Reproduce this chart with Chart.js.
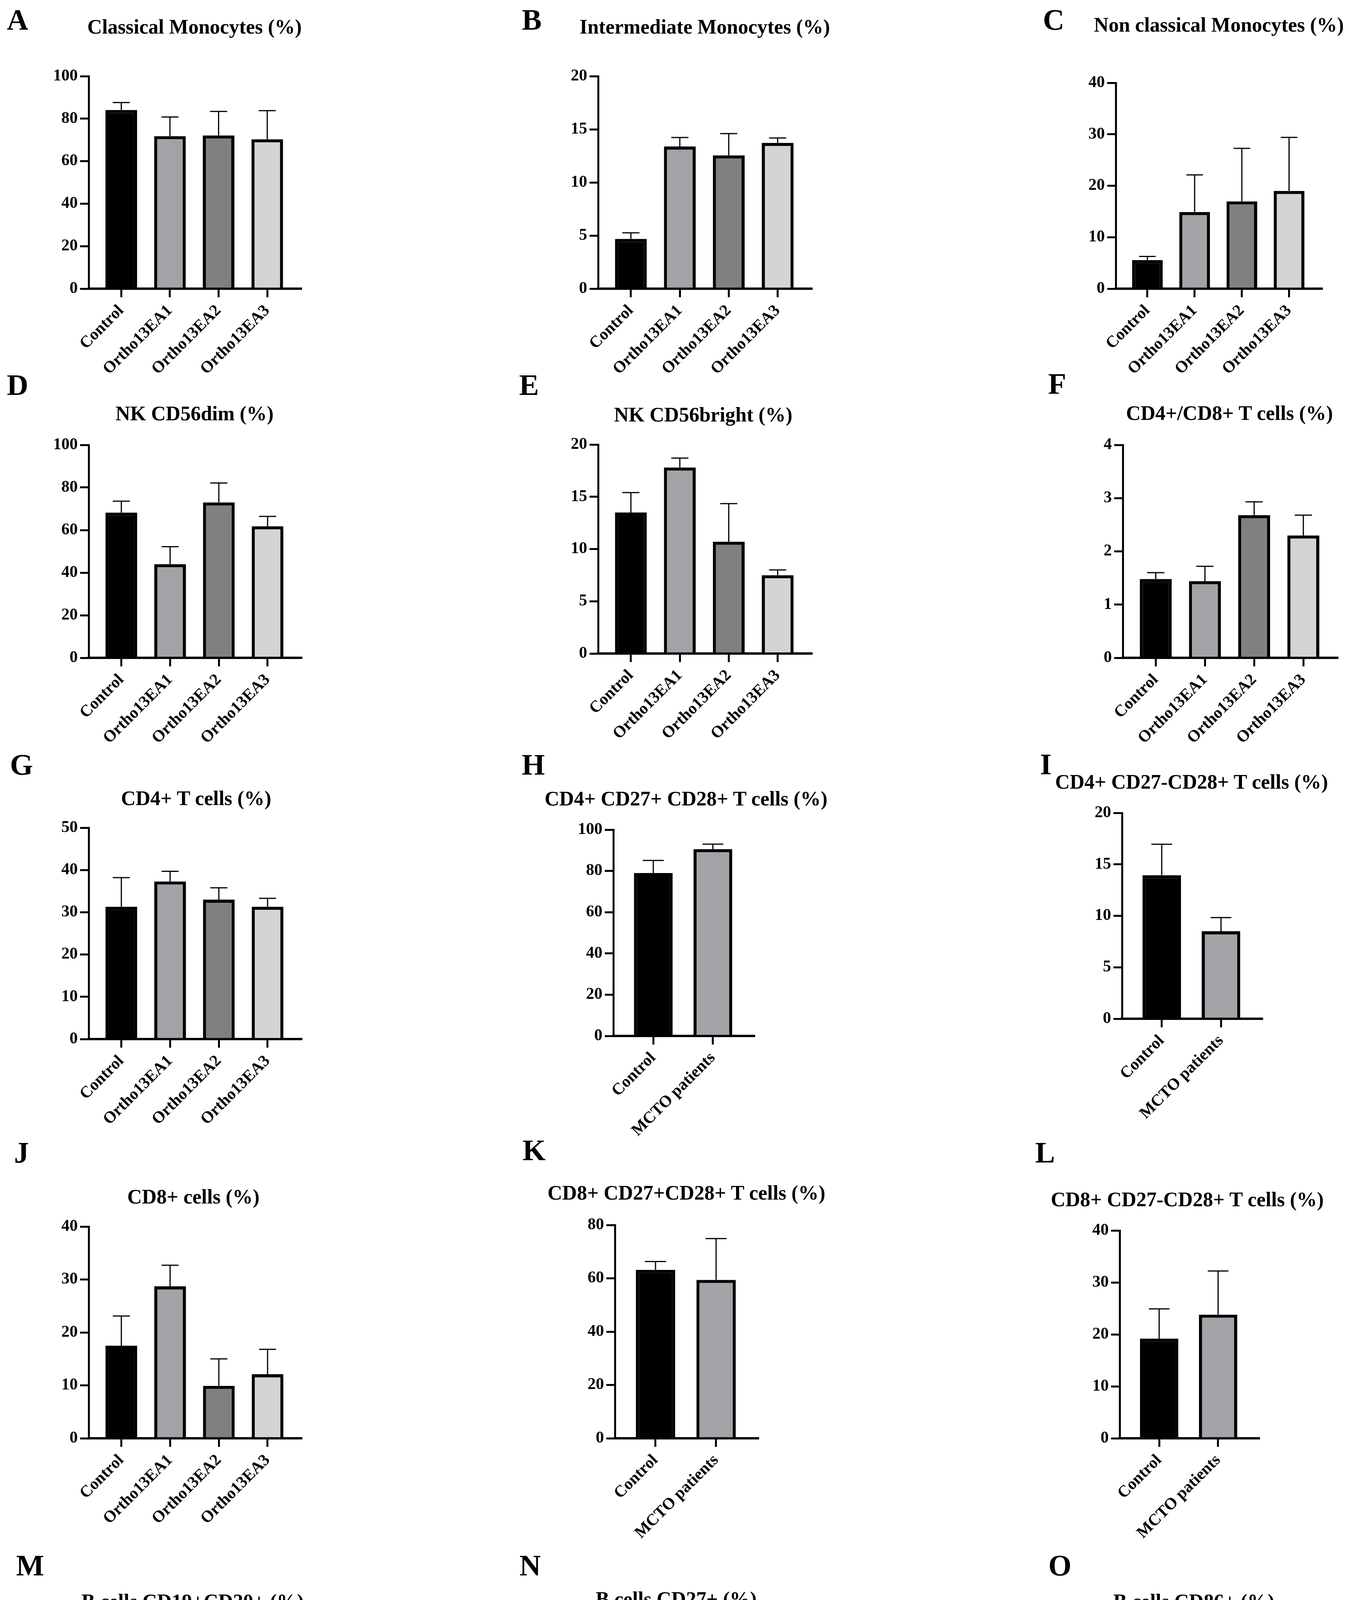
<!DOCTYPE html>
<html>
<head>
<meta charset="utf-8">
<script src="https://cdn.jsdelivr.net/npm/chart.js@4.4.1/dist/chart.umd.min.js"></script>
<style>
  body { margin: 0; background: #fff; }
  #page {
    position: relative; width: 3453px; height: 4999px; overflow: hidden; background: #fff;
    font-family: 'Liberation Serif', 'Times New Roman', serif; font-weight: bold; color: #000;
  }
  .letter { position: absolute; font-size: 76px; line-height: 1; transform: translate(-50%, -50%); }
  .title { position: absolute; font-size: 52px; line-height: 1; white-space: nowrap; transform: translate(-50%, -50%); }
  canvas { position: absolute; }
</style>
</head>
<body>
<div id="page"></div>
<script>
// groups on the x axis
const groups4 = ['Control', 'Ortho13EA1', 'Ortho13EA2', 'Ortho13EA3'];
const groups2 = ['Control', 'MCTO patients'];

// means and SD (upper error bar)
const classicalMono = [84.1, 71.8, 72.1, 70.3];
const classicalMonoSD = [3.5, 9.0, 11.3, 13.5];
const intermediateMono = [4.69, 13.38, 12.55, 13.72];
const intermediateMonoSD = [0.57, 0.85, 2.05, 0.46];
const nonClassicalMono = [5.56, 14.9, 16.96, 19.0];
const nonClassicalMonoSD = [0.71, 7.2, 10.3, 10.4];
const nkDim = [68.2, 44.0, 73.0, 61.8];
const nkDimSD = [5.4, 8.2, 9.1, 4.6];
const nkBright = [13.5, 17.8, 10.7, 7.5];
const nkBrightSD = [1.9, 0.9, 3.65, 0.5];
const cd4cd8Ratio = [1.48, 1.44, 2.68, 2.30];
const cd4cd8RatioSD = [0.12, 0.28, 0.25, 0.38];
const cd4T = [31.3, 37.3, 33.0, 31.3];
const cd4TSD = [6.9, 2.4, 2.8, 2.0];
const cd4Cd27pCd28p = [79.0, 90.6];
const cd4Cd27pCd28pSD = [6.1, 2.4];
const cd4Cd27nCd28p = [13.95, 8.5];
const cd4Cd27nCd28pSD = [3.0, 1.33];
const cd8Cells = [17.5, 28.7, 9.9, 12.1];
const cd8CellsSD = [5.6, 4.0, 5.1, 4.7];
const cd8Cd27pCd28p = [63.2, 59.4];
const cd8Cd27pCd28pSD = [3.1, 15.5];
const cd8Cd27nCd28p = [19.2, 23.8];
const cd8Cd27nCd28pSD = [5.7, 8.4];
const bCd19Cd20 = [89.6, 91.7, 86.0, 75.7];
const bCd19Cd20SD = [5.7, 5.1, 4.4, 8.6];
const bCd27 = [46.3, 14.6];
const bCd27SD = [5.3, 0.8];
const bCd86 = [2.8, 82.3];
const bCd86SD = [0.7, 17.5];

// y axis ranges
const yMax = [100, 20, 40, 100, 20, 4, 50, 100, 20, 40, 80, 40, 150, 60, 150];
const yStep = [20, 5, 10, 20, 5, 1, 10, 20, 5, 10, 20, 10, 50, 20, 50];

const panels = [
  { letter: 'A', title: 'Classical Monocytes (%)', groups: groups4, mean: classicalMono, sd: classicalMonoSD },
  { letter: 'B', title: 'Intermediate Monocytes (%)', groups: groups4, mean: intermediateMono, sd: intermediateMonoSD },
  { letter: 'C', title: 'Non classical Monocytes (%)', groups: groups4, mean: nonClassicalMono, sd: nonClassicalMonoSD },
  { letter: 'D', title: 'NK CD56dim (%)', groups: groups4, mean: nkDim, sd: nkDimSD },
  { letter: 'E', title: 'NK CD56bright (%)', groups: groups4, mean: nkBright, sd: nkBrightSD },
  { letter: 'F', title: 'CD4+/CD8+ T cells (%)', groups: groups4, mean: cd4cd8Ratio, sd: cd4cd8RatioSD },
  { letter: 'G', title: 'CD4+ T cells (%)', groups: groups4, mean: cd4T, sd: cd4TSD },
  { letter: 'H', title: 'CD4+ CD27+ CD28+ T cells (%)', groups: groups2, mean: cd4Cd27pCd28p, sd: cd4Cd27pCd28pSD },
  { letter: 'I', title: 'CD4+ CD27-CD28+ T cells (%)', groups: groups2, mean: cd4Cd27nCd28p, sd: cd4Cd27nCd28pSD },
  { letter: 'J', title: 'CD8+ cells (%)', groups: groups4, mean: cd8Cells, sd: cd8CellsSD },
  { letter: 'K', title: 'CD8+ CD27+CD28+ T cells (%)', groups: groups2, mean: cd8Cd27pCd28p, sd: cd8Cd27pCd28pSD },
  { letter: 'L', title: 'CD8+ CD27-CD28+ T cells (%)', groups: groups2, mean: cd8Cd27nCd28p, sd: cd8Cd27nCd28pSD },
  { letter: 'M', title: 'B cells CD19+CD20+ (%)', groups: groups4, mean: bCd19Cd20, sd: bCd19Cd20SD },
  { letter: 'N', title: 'B cells CD27+ (%)', groups: groups2, mean: bCd27, sd: bCd27SD },
  { letter: 'O', title: 'B cells CD86+ (%)', groups: groups2, mean: bCd86, sd: bCd86SD }
];

// where each panel sits on the page (axis corner pixels, title and letter centres)
const layout = {
  A: { axis: 227, end: 770, top: 195, zero: 739, tx: 498, ty: 69, lx: 45, ly: 50 },
  B: { axis: 1531, end: 2077, top: 195, zero: 739, tx: 1804, ty: 69, lx: 1361, ly: 50 },
  C: { axis: 2856, end: 3383, top: 212, zero: 739, tx: 3120, ty: 64, lx: 2697, ly: 50 },
  D: { axis: 227, end: 771, top: 1139, zero: 1684, tx: 498, ty: 1059, lx: 45, ly: 985 },
  E: { axis: 1531, end: 2077, top: 1138, zero: 1673, tx: 1800, ty: 1062, lx: 1354, ly: 985 },
  F: { axis: 2874, end: 3423, top: 1139, zero: 1684, tx: 3147, ty: 1058, lx: 2706, ly: 982 },
  G: { axis: 227, end: 771, top: 2119, zero: 2660, tx: 502, ty: 2044, lx: 55, ly: 1957 },
  H: { axis: 1570, end: 1930, top: 2124, zero: 2652, tx: 1756, ty: 2045, lx: 1365, ly: 1957 },
  I: { axis: 2872, end: 3230, top: 2081, zero: 2608, tx: 3050, ty: 2002, lx: 2677, ly: 1956 },
  J: { axis: 227, end: 771, top: 3140, zero: 3682, tx: 495, ty: 3064, lx: 55, ly: 2950 },
  K: { axis: 1574, end: 1940, top: 3136, zero: 3682, tx: 1757, ty: 3054, lx: 1367, ly: 2944 },
  L: { axis: 2866, end: 3222, top: 3150, zero: 3682, tx: 3039, ty: 3071, lx: 2675, ly: 2950 },
  M: { axis: 227, end: 760, top: 4181, zero: 4713, tx: 493, ty: 4100, lx: 77, ly: 4007 },
  N: { axis: 1571, end: 1895, top: 4231, zero: 4711, tx: 1731, ty: 4094, lx: 1357, ly: 4007 },
  O: { axis: 2875, end: 3232, top: 4173, zero: 4713, tx: 3056, ty: 4100, lx: 2713, ly: 4007 }
};

const barColors = {
  'Control': '#000000',
  'Ortho13EA1': '#a3a3a7',
  'Ortho13EA2': '#808080',
  'Ortho13EA3': '#d4d4d4',
  'MCTO patients': '#a3a3a7'
};

const FONT = "'Liberation Serif', 'Times New Roman', serif";
const Y_W = 150, PAD_TOP = 40, PAD_RIGHT = 30, X_H = 330;

// upward SD bars with a cap
const errorBars = {
  id: 'errorBars',
  afterDatasetsDraw(chart, args, opts) {
    const ctx = chart.ctx;
    const y = chart.scales.y;
    const meta = chart.getDatasetMeta(0);
    const ds = chart.data.datasets[0];
    ctx.save();
    ctx.strokeStyle = '#000';
    ctx.lineWidth = opts.lineWidth;
    meta.data.forEach((bar, i) => {
      const yTop = y.getPixelForValue(ds.data[i].y + opts.sd[i]);
      const half = bar.width * 0.27;
      ctx.beginPath();
      ctx.moveTo(bar.x, bar.y);
      ctx.lineTo(bar.x, yTop);
      ctx.moveTo(bar.x - half, yTop);
      ctx.lineTo(bar.x + half, yTop);
      ctx.stroke();
    });
    ctx.restore();
  }
};

const page = document.getElementById('page');

panels.forEach((p, k) => {
  const L = layout[p.letter];

  const letter = document.createElement('div');
  letter.className = 'letter';
  letter.textContent = p.letter;
  letter.style.left = L.lx + 'px';
  letter.style.top = L.ly + 'px';
  page.appendChild(letter);

  const title = document.createElement('div');
  title.className = 'title';
  title.textContent = p.title;
  title.style.left = L.tx + 'px';
  title.style.top = L.ty + 'px';
  page.appendChild(title);

  const canvas = document.createElement('canvas');
  const w = L.end - L.axis + Y_W + PAD_RIGHT;
  const h = L.zero - L.top + PAD_TOP + X_H;
  canvas.width = w;
  canvas.height = h;
  canvas.style.width = w + 'px';
  canvas.style.height = h + 'px';
  canvas.style.left = (L.axis - Y_W) + 'px';
  canvas.style.top = (L.top - PAD_TOP) + 'px';
  page.appendChild(canvas);

  const n = p.groups.length;

  new Chart(canvas.getContext('2d'), {
    type: 'bar',
    data: {
      datasets: [{
        data: p.mean.map((v, i) => ({ x: i, y: v })),
        backgroundColor: p.groups.map(g => barColors[g]),
        borderColor: '#000',
        borderWidth: 8,
        borderSkipped: 'bottom',
        categoryPercentage: 1,
        barPercentage: 0.65
      }]
    },
    options: {
      responsive: false,
      animation: false,
      devicePixelRatio: 1,
      layout: { padding: { top: PAD_TOP, right: PAD_RIGHT, left: 0, bottom: 0 } },
      plugins: {
        legend: { display: false },
        tooltip: { enabled: false },
        errorBars: { sd: p.sd, lineWidth: 3 }
      },
      scales: {
        x: {
          type: 'linear',
          offset: false,
          min: -0.67,
          max: n - 1 + 0.69,
          afterBuildTicks: s => { s.ticks = p.groups.map((g, i) => ({ value: i })); },
          afterFit: s => { s.height = X_H; },
          grid: { offset: false, drawOnChartArea: false, drawTicks: true, tickLength: 22, tickWidth: 5, lineWidth: 5, color: '#000', tickColor: '#000' },
          border: { display: true, color: '#000', width: 6 },
          ticks: {
            autoSkip: false,
            minRotation: 45,
            maxRotation: 45,
            padding: 10,
            color: '#000',
            font: { family: FONT, size: 42, weight: 'bold' },
            callback: v => p.groups[v]
          }
        },
        y: {
          min: 0,
          max: yMax[k],
          afterFit: s => { s.width = Y_W; },
          grid: { drawOnChartArea: false, drawTicks: true, tickLength: 22, tickWidth: 5, lineWidth: 5, color: '#000', tickColor: '#000' },
          border: { display: true, color: '#000', width: 5 },
          ticks: {
            stepSize: yStep[k],
            padding: 6,
            color: '#000',
            font: { family: FONT, size: 42, weight: 'bold' }
          }
        }
      }
    },
    plugins: [errorBars]
  });
});
</script>
</body>
</html>
